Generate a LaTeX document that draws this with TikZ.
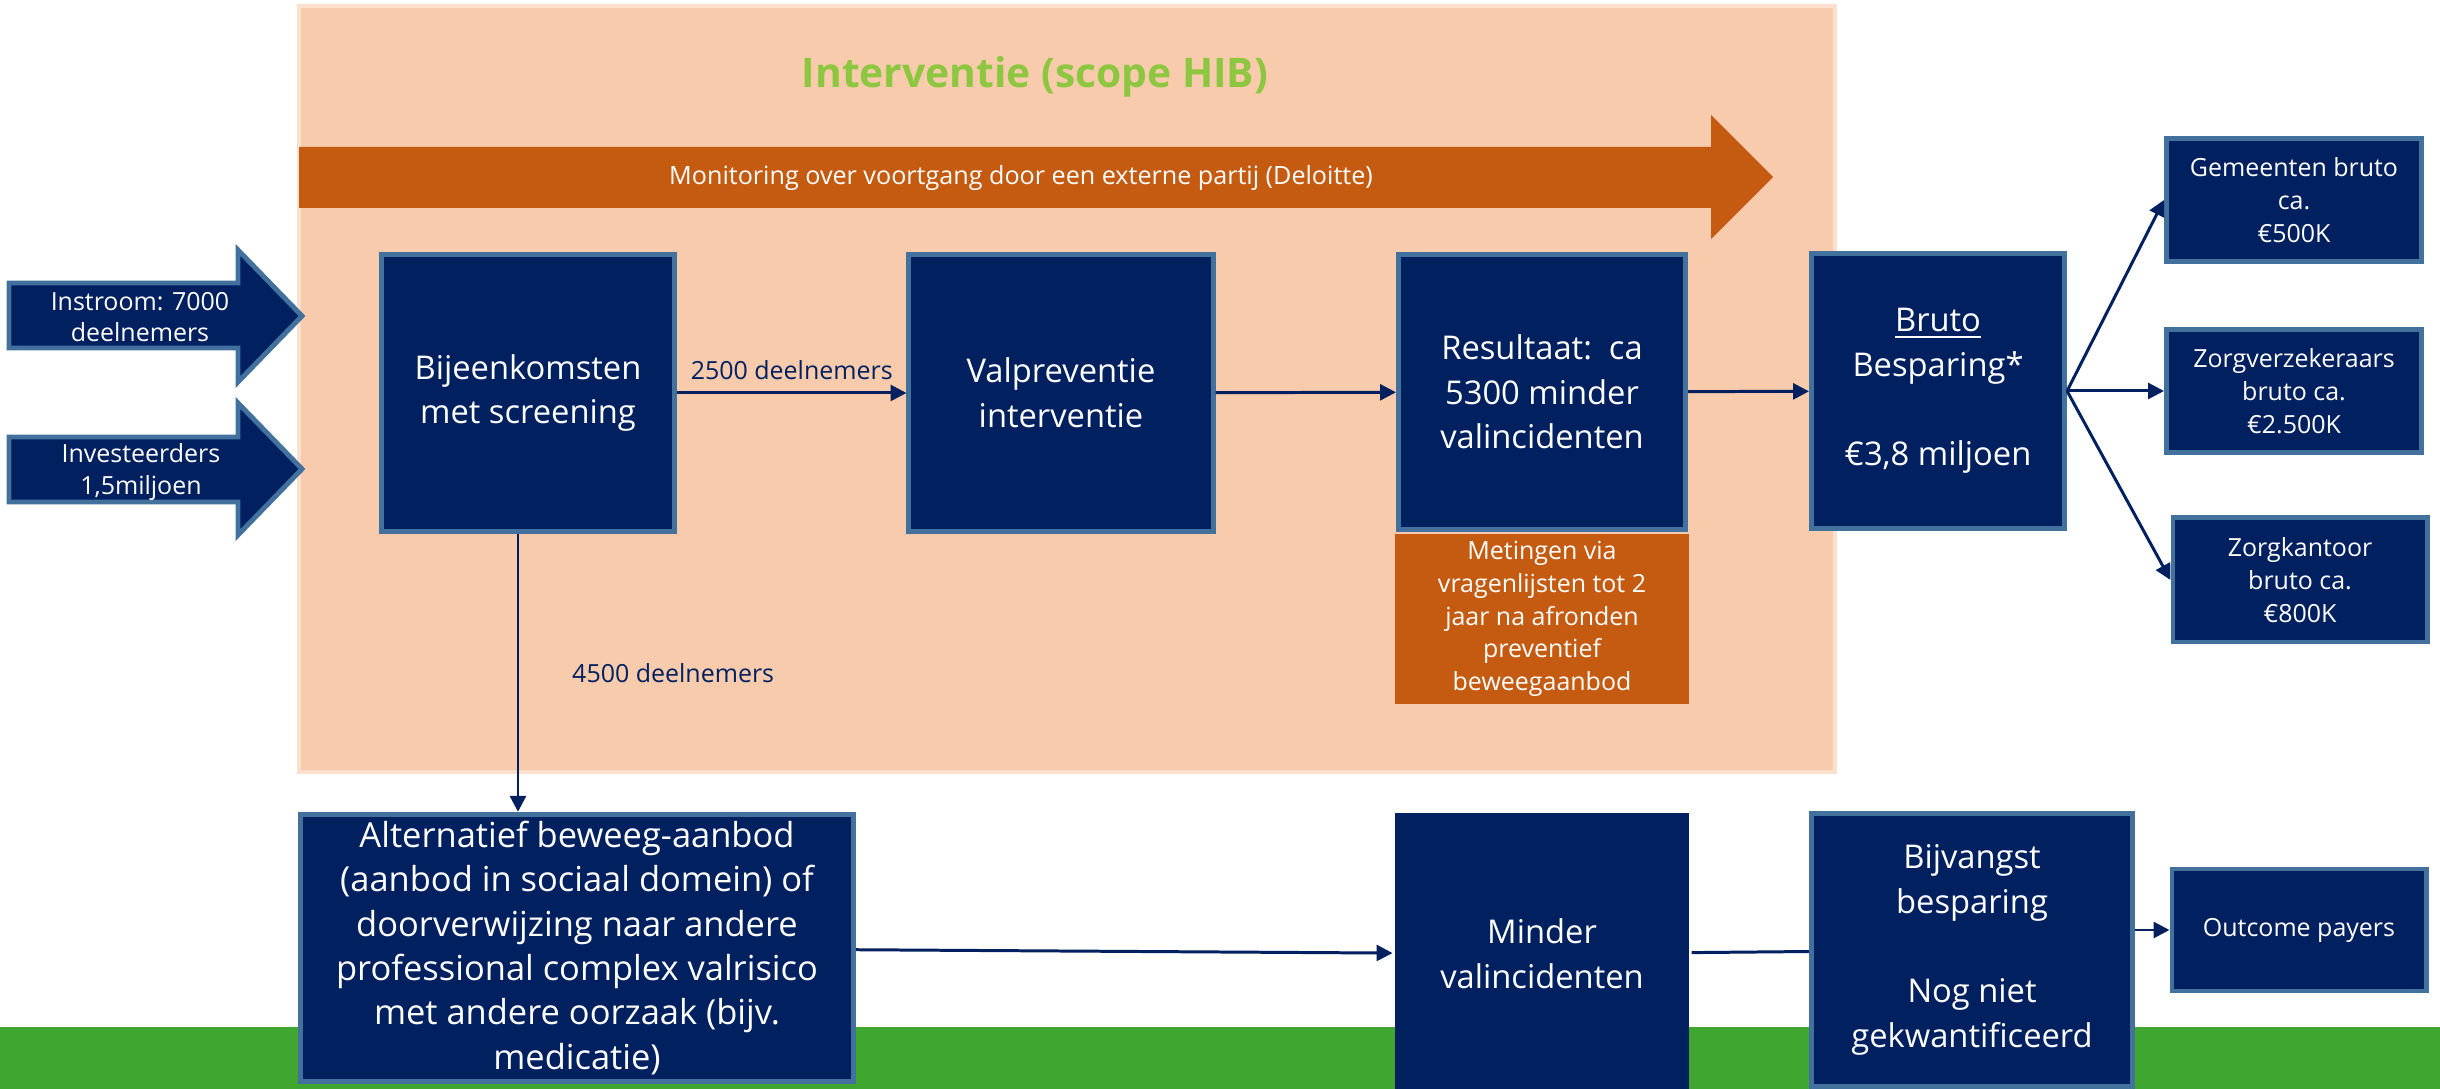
\documentclass[tikz,border=0pt]{standalone}
\usepackage{fontspec}
\setmainfont{Open Sans}
\usetikzlibrary{arrows.meta, positioning}

\definecolor{navy}{HTML}{002060}
\definecolor{steel}{HTML}{41719C}
\definecolor{rust}{HTML}{C55A11}
\definecolor{peach}{HTML}{F8CBAD}
\definecolor{peachline}{HTML}{FBE0CD}
\definecolor{leaf}{HTML}{8DC63F}
\definecolor{grass}{HTML}{3FA630}

\newcommand{\boxfont}{\fontsize{9.3}{12.7}\selectfont}
\newcommand{\smallboxfont}{\fontsize{7.1}{9.3}\selectfont}

\begin{document}
\begin{tikzpicture}[
    x=0.01cm, y=-0.01cm,
    >=Stealth,
    box/.style={rectangle, draw=steel, line width=1.4pt, fill=navy, text=white,
        align=center, inner sep=2pt, font=\boxfont},
    payer/.style={box, font=\smallboxfont},
    meting/.style={rectangle, fill=rust, text=white, align=center,
        inner sep=2pt, font=\smallboxfont},
    inarrow/.style={draw=steel, line width=1.4pt, fill=navy, line join=miter},
    intext/.style={text=white, align=center, font=\fontsize{7.1}{8.9}\selectfont},
    lbl/.style={text=navy, font=\smallboxfont},
    flow/.style={-{Triangle[length=4.5pt, width=4.5pt]}, draw=navy, line width=0.85pt},
    link/.style={draw=navy, line width=0.85pt}
]

    \useasboundingbox (0,0) rectangle (2440,1089);

    % Background -------------------------------------------------

    \fill[grass] (0,1027) rectangle (2440,1089);
    \draw[peachline, line width=1.4pt, fill=peach] (299,6) rectangle (1835,772);

    \node[text=leaf, font=\fontsize{11.6}{14}\selectfont\bfseries] (titel) at (1035,77) {Interventie (scope HIB)};

    % monitoring arrow
    \fill[rust] (299,147) -- (1711,147) -- (1711,115) -- (1773,177) -- (1711,239) -- (1711,208) -- (299,208) -- cycle;
    \node[text=white, font=\fontsize{7.15}{9}\selectfont] (monitor) at (1021,178) {Monitoring over voortgang door een externe partij (Deloitte)};

    % input arrows
    \draw[inarrow] (9,283) -- (238,283) -- (238,250) -- (302,316) -- (238,382) -- (238,348) -- (9,348) -- cycle;
    \node[intext] (instroom) at (140,317) {Instroom: 7000\\deelnemers};
    \draw[inarrow] (9,437) -- (238,437) -- (238,403) -- (302,469) -- (238,535) -- (238,502) -- (9,502) -- cycle;
    \node[intext] (invest) at (141,472) {Investeerders\\1,5miljoen};

    % Nodes ------------------------------------------------------

    \node[box, minimum width=2.93cm, minimum height=2.76cm] (bij) at (528,393) {Bijeenkomsten\\met screening};
    \node[box, minimum width=3.04cm, minimum height=2.76cm] (val) at (1061,393) {Valpreventie\\interventie};
    \node[box, minimum width=2.87cm, minimum height=2.74cm] (res) at (1542,392) {Resultaat:\ \ ca\\5300 minder\\valincidenten};
    \node[box, minimum width=2.53cm, minimum height=2.75cm] (bruto) at (1938,391) {\underline{Bruto}\\Besparing*\\[12.7pt]€3,8 miljoen};
    \node[meting, minimum width=2.94cm, minimum height=1.69cm] (meting) at (1542,619) {Metingen via\\vragenlijsten tot 2\\jaar na afronden\\preventief\\beweegaanbod};

    % payers
    \node[payer, minimum width=2.55cm, minimum height=1.23cm] (gem) at (2294,200) {Gemeenten bruto\\ca.\\€500K};
    \node[payer, minimum width=2.55cm, minimum height=1.23cm] (zv) at (2294,391) {Zorgverzekeraars\\bruto ca.\\€2.500K};
    \node[payer, minimum width=2.54cm, minimum height=1.24cm] (zk) at (2300,580) {Zorgkantoor\\bruto ca.\\€800K};

    % bottom row
    \node[box, font=\fontsize{9.8}{12.6}\selectfont, minimum width=5.53cm, minimum height=2.66cm] (alt) at (577,948) {Alternatief beweeg-aanbod\\(aanbod in sociaal domein) of\\doorverwijzing naar andere\\professional complex valrisico\\met andere oorzaak (bijv.\\medicatie)};
    \node[box, draw=none, minimum width=2.94cm, minimum height=2.82cm] (minder) at (1542,954) {Minder\\valincidenten};
    \node[box, minimum width=3.21cm, minimum height=2.73cm] (bijv) at (1972,950) {Bijvangst\\besparing\\[12.7pt]Nog niet\\gekwantificeerd};
    \node[payer, minimum width=2.54cm, minimum height=1.22cm] (outc) at (2299,930) {Outcome payers};

    % Arrows ---------------------------------------------------

    \draw[flow] (bij) -- node[lbl, above] (n2500) {2500 deelnemers} (val);
    \draw[flow] (val) -- (res);
    \draw[flow] (res) -- (bruto);
    \draw[flow] (bruto.east) -- (gem.west);
    \draw[flow] (bruto.east) -- (zv.west);
    \draw[flow] (bruto.east) -- (zk.west);
    \draw[flow] ([xshift=-0.1cm]bij.south) -- node[lbl, right=0.41cm] (n4500) {4500 deelnemers} ([xshift=-0.1cm]bij.south |- alt.north);
    \draw[flow] (alt) -- (minder);
    \draw[link] (minder) -- (bijv);
    \draw[flow] (outc.west -| bijv.east) -- (outc.west);

\end{tikzpicture}
\end{document}
